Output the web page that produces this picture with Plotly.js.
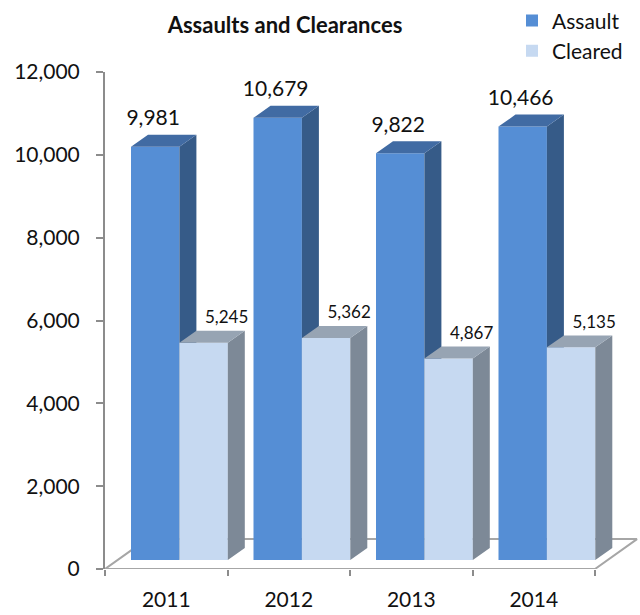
<!DOCTYPE html>
<html><head><meta charset="utf-8">
<script src="https://cdn.plot.ly/plotly-3.0.1.min.js"></script>
<style>html,body{margin:0;padding:0;background:#fff}#chart{width:640px;height:615px}</style>
</head><body><div id="chart"></div>
<script>
// ---- data ----
const years = ['2011', '2012', '2013', '2014'];
const assault = [9981, 10679, 9822, 10466];
const cleared = [5245, 5362, 4867, 5135];
const seriesNames = ['Assault', 'Cleared'];
const yTickVals = [0, 2000, 4000, 6000, 8000, 10000, 12000];

// ---- geometry (pixel based helpers) ----
const W = 640, H = 615;
const mL = 105, mR = 0, mT = 70, mB = 46;
const plotW = W - mL - mR, plotH = H - mT - mB;
const unitPx = 122.5;                 // px per category
const yMax = 12000;
const pxX = 1 / unitPx;               // x units per px
const pxY = yMax / plotH;             // y units per px
const xRange = [-0.5, -0.5 + plotW / unitPx];
const baseLift = 9 * pxY;             // bars sit a bit behind the front edge
const y2Range = [-baseLift, yMax - baseLift];

const barW = 48.4 * pxX;
const aOff = 26 * pxX - 0.5;          // left edge of assault bar relative to category centre
const cOff = aOff + barW;
const bdx = 17 * pxX, bdy = 12 * pxY; // bar depth
const fdx = 42 * pxX, fdy = 30 * pxY; // floor depth

const cols = {
  aFront: '#558ed5', aSide: '#365b88', aTop: '#416ba3',
  cFront: '#c6d9f1', cSide: '#7d8997', cTop: '#97a4b3',
  axis: '#8c8c8c', floor: '#a6a6a6', text: '#111111'
};
const font = 'Lato, "Open Sans", sans-serif';

function faces(values, off) {
  const side = {x: [], y: []}, top = {x: [], y: []};
  values.forEach((v, i) => {
    const L = i + off, R = L + barW;
    side.x.push(R, R + bdx, R + bdx, R, R, null);
    side.y.push(0, bdy, v + bdy, v, 0, null);
    top.x.push(L, L + bdx, R + bdx, R, L, null);
    top.y.push(v, v + bdy, v + bdy, v, v, null);
  });
  return {side, top};
}
const idx = years.map((_, i) => i);
const aF = faces(assault, aOff), cF = faces(cleared, cOff);

function poly(p, color, xa, ya) {
  return {type: 'scatter', mode: 'lines', x: p.x, y: p.y, fill: 'toself',
    fillcolor: color, line: {width: 0, color: color}, hoverinfo: 'skip',
    showlegend: false, xaxis: xa, yaxis: ya};
}

// floor
const n = years.length;
const floor = {type: 'scatter', mode: 'lines',
  x: [-0.5, n - 0.5, n - 0.5 + fdx, -0.5 + fdx, -0.5],
  y: [0, 0, fdy, fdy, 0],
  fill: 'toself', fillcolor: '#ffffff', line: {color: cols.floor, width: 2},
  hoverinfo: 'skip', showlegend: false, xaxis: 'x', yaxis: 'y'};

const traces = [
  floor,
  {type: 'bar', name: seriesNames[0], x: idx, y: assault, width: barW, offset: aOff,
   marker: {color: cols.aFront, line: {width: 0}}, xaxis: 'x2', yaxis: 'y2', hoverinfo: 'skip'},
  poly(aF.side, cols.aSide, 'x2', 'y2'),
  poly(aF.top, cols.aTop, 'x2', 'y2'),
  {type: 'bar', name: seriesNames[1], x: idx, y: cleared, width: barW, offset: cOff,
   marker: {color: cols.cFront, line: {width: 0}}, xaxis: 'x3', yaxis: 'y3', hoverinfo: 'skip'},
  poly(cF.side, cols.cSide, 'x3', 'y3'),
  poly(cF.top, cols.cTop, 'x3', 'y3'),
  {type: 'scatter', mode: 'text', x: idx.map(i => i + aOff + barW / 2 - 2 * pxX),
   y: assault.map(v => v + 27 * pxY), text: assault.map(v => v.toLocaleString('en-US')),
   textposition: 'middle center', textfont: {family: font, size: 21, color: cols.text},
   cliponaxis: false, hoverinfo: 'skip', showlegend: false, xaxis: 'x3', yaxis: 'y3'},
  {type: 'scatter', mode: 'text', x: idx.map(i => i + cOff + barW / 2 + 23 * pxX),
   y: cleared.map(v => v + 24 * pxY), text: cleared.map(v => v.toLocaleString('en-US')),
   textposition: 'middle center', textfont: {family: font, size: 17, color: cols.text},
   cliponaxis: false, hoverinfo: 'skip', showlegend: false, xaxis: 'x3', yaxis: 'y3'}
];

const boundaries = [];
for (let i = 0; i <= n; i++) boundaries.push(i - 0.5);

const layout = {
  width: W, height: H,
  margin: {l: mL, r: mR, t: mT, b: mB, pad: 0},
  paper_bgcolor: '#ffffff', plot_bgcolor: 'rgba(0,0,0,0)',
  font: {family: font, size: 20, color: cols.text},
  barmode: 'overlay',
  showlegend: true,
  hovermode: false,
  title: {text: '<b>Assaults and Clearances</b>', font: {family: font, size: 22, color: cols.text},
    xref: 'paper', x: (285 - mL) / plotW, xanchor: 'center',
    yref: 'container', y: 1 - 25 / H, yanchor: 'middle'},
  legend: {x: (512 - mL) / plotW, xanchor: 'left', y: 1 + (mT + 2) / plotH, yanchor: 'top',
    font: {family: font, size: 21, color: cols.text}, bgcolor: 'rgba(0,0,0,0)',
    tracegroupgap: 0, itemclick: false, itemwidth: 30},
  xaxis: {range: xRange, tickmode: 'array', tickvals: boundaries, ticktext: boundaries.map(() => ''),
    ticks: 'outside', ticklen: 6, tickwidth: 2, tickcolor: cols.axis,
    showline: false, showgrid: false, zeroline: false, fixedrange: true},
  xaxis2: {overlaying: 'x', anchor: 'y2', range: xRange, tickmode: 'array', tickvals: idx, ticktext: years,
    ticks: '', showline: false, showgrid: false, zeroline: false, side: 'bottom',
    ticklabelstandoff: 16,
    tickfont: {family: font, size: 21, color: cols.text}, fixedrange: true},
  xaxis3: {overlaying: 'x', anchor: 'y3', range: xRange, visible: false, fixedrange: true},
  yaxis: {range: [0, yMax], tickmode: 'array', tickvals: yTickVals,
    ticktext: yTickVals.map(v => v.toLocaleString('en-US')),
    ticks: 'outside', ticklen: 7, tickwidth: 2, tickcolor: cols.axis,
    showline: true, linecolor: cols.axis, linewidth: 2,
    showgrid: false, zeroline: false, tickfont: {family: font, size: 21, color: cols.text},
    ticklabelstandoff: 12, fixedrange: true},
  yaxis2: {overlaying: 'y', anchor: 'x2', range: y2Range, visible: false, fixedrange: true},
  yaxis3: {overlaying: 'y', anchor: 'x3', range: y2Range, visible: false, fixedrange: true}
};

Plotly.newPlot('chart', traces, layout, {displayModeBar: false, staticPlot: true});
</script>
</body></html>
